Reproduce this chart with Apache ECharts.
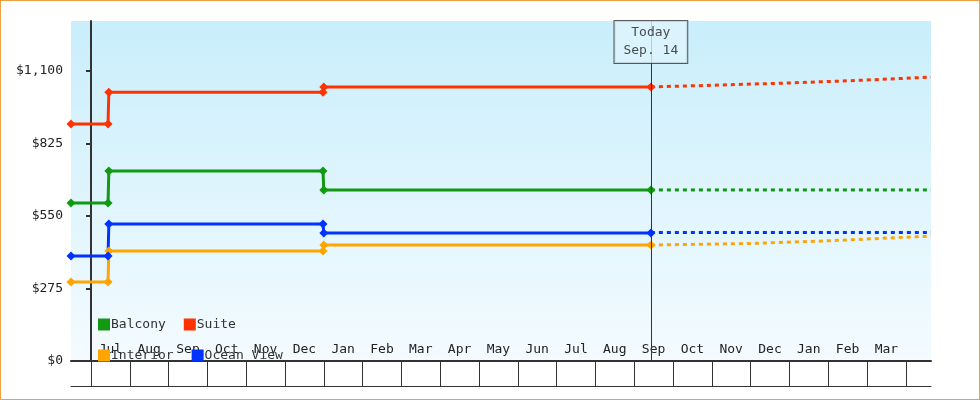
<!DOCTYPE html>
<html><head><meta charset="utf-8">
<script src="https://cdn.jsdelivr.net/npm/echarts@6/dist/echarts.min.js"></script>
<style>html,body{margin:0;padding:0;background:#fff}#c{width:978px;height:398px;border:1px solid #f0a040}</style>
</head><body><div id="c"></div>
<script>
// x in months since Jul 1 of first year
const months = ['Jul','Aug','Sep','Oct','Nov','Dec','Jan','Feb','Mar','Apr','May','Jun','Jul','Aug','Sep','Oct','Nov','Dec','Jan','Feb','Mar'];
const yTicks = [0, 275, 550, 825, 1100];
const todayX = 14.43;
const todayLabel = 'Today\nSep. 14';
const balcony  = [[-0.515,599],[0.44,599],[0.46,721],[5.98,721],[6.0,649],[todayX,649]];
const suite    = [[-0.515,899],[0.44,899],[0.46,1020],[5.98,1020],[6.0,1040],[todayX,1040]];
const interior = [[-0.515,300],[0.44,300],[0.46,417],[5.98,417],[6.0,440],[todayX,440]];
const ocean    = [[-0.515,398],[0.44,398],[0.46,520],[5.98,520],[6.0,486],[todayX,486]];
const balconyF  = [[todayX,649],[21.65,649]];
const suiteF    = [[todayX,1040],[16,1046],[18,1055],[19.5,1063],[21.65,1077]];
const interiorF = [[todayX,440],[17,446],[19,456],[21.65,474]];
const oceanF    = [[todayX,488],[21.65,488]];

const C = {Balcony:'#119911', Suite:'#ff3300', Interior:'#ffa500', 'Ocean View':'#0033ff'};
const font = 'DejaVu Sans Mono';
function solid(name, data){
  return {name, type:'line', data, color:C[name], symbol:'diamond', symbolSize:9,
    lineStyle:{width:3}, itemStyle:{color:C[name]}, z:3};
}
function dash(name, data){
  return {name:name+' f', type:'line', data, color:C[name], symbol:'none',
    lineStyle:{width:3, type:[4,4]}, z:2};
}
const ticks = months.map((m,i)=>i).concat([21]);
const labelVals = months.map((m,i)=>i+0.5);
const chart = echarts.init(document.getElementById('c'));
chart.setOption({
  animation:false,
  textStyle:{fontFamily:font},
  grid:{left:70,right:48,top:20,bottom:38,show:true,borderWidth:0,
    backgroundColor:new echarts.graphic.LinearGradient(0,0,0,1,[{offset:0,color:'#c9eefc'},{offset:1,color:'#f4fbff'}])},
  legend:{left:92,top:312,width:200,itemWidth:12,itemHeight:12,itemGap:18,icon:'rect',
    data:['Balcony','Suite','Interior','Ocean View'],
    textStyle:{fontFamily:font,fontSize:13,color:'#333',padding:[0,0,0,-4]}},
  xAxis:[{type:'value',min:-0.515,max:21.65,position:'bottom',
      axisLine:{lineStyle:{color:'#333',width:2}},
      splitLine:{show:false},
      axisTick:{show:true,customValues:ticks,length:25,inside:false,lineStyle:{color:'#333',width:1}},
      axisLabel:{customValues:labelVals,formatter:v=>months[Math.floor(v)],fontFamily:font,fontSize:13,color:'#222',margin:-18}},
    {type:'value',min:-0.515,max:21.65,position:'bottom',offset:25,
      axisLine:{lineStyle:{color:'#333',width:1}},axisTick:{show:false},axisLabel:{show:false},splitLine:{show:false}}],
  yAxis:{type:'value',min:0,max:1290,
    axisLine:{show:true,lineStyle:{color:'#333',width:2}},
    splitLine:{show:false},
    axisTick:{show:true,customValues:yTicks,length:5,lineStyle:{color:'#333',width:2}},
    axisLabel:{customValues:yTicks,formatter:v=>'$'+v.toLocaleString('en-US'),fontFamily:font,fontSize:13,color:'#222',margin:8}},
  series:[
    solid('Balcony',balcony), solid('Suite',suite), solid('Interior',interior), solid('Ocean View',ocean),
    dash('Balcony',balconyF), dash('Suite',suiteF), dash('Interior',interiorF), dash('Ocean View',oceanF),
    {type:'scatter',data:[[todayX,1290]],symbolSize:0,z:10,silent:true,
      label:{show:true,position:'bottom',distance:0,formatter:todayLabel,fontFamily:font,fontSize:13,color:'#222',
        lineHeight:18,backgroundColor:'#dff4fc',borderColor:'#333',borderWidth:1,padding:[3,9,3,9],align:'center'},
      markLine:{silent:true,symbol:'none',label:{show:false},lineStyle:{color:'#333',width:1,type:'solid'},
        data:[[{coord:[todayX,0]},{coord:[todayX,1290]}]]}}
  ]
});
</script></body></html>
